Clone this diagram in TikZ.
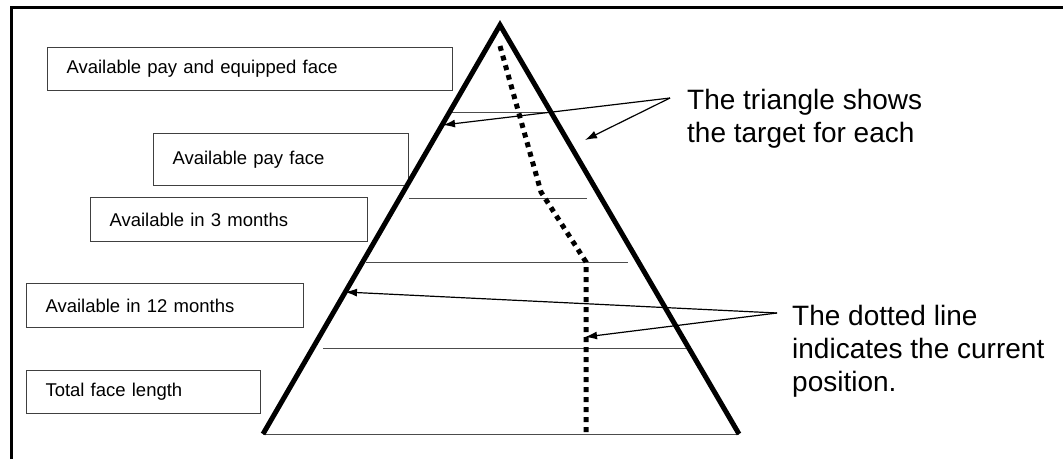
\documentclass[tikz,border=0pt]{standalone}
\usepackage{fontspec}
\setmainfont{Liberation Sans}
\usetikzlibrary{arrows.meta}
\begin{document}
\begin{tikzpicture}[x=1pt,y=-1pt,
  lbl/.style={draw=black!75, line width=1pt, font=\fontsize{18.5}{22}\selectfont,
    anchor=north west, inner xsep=19pt, inner ysep=0pt, align=left},
  note/.style={font=\fontsize{28}{33}\selectfont, anchor=north west, inner sep=0pt, align=left},
  tri/.style={line width=5pt, line join=miter},
  level/.style={draw=black!70, line width=1pt},
  dotline/.style={line width=5pt, dash pattern=on 5pt off 5pt},
  ptr/.style={line width=1.2pt, -{Latex[length=12pt,width=8pt]}}]
\useasboundingbox (0,0) rectangle (1063,459);
% frame
\draw[line width=3pt] (11.7,459) -- (11.7,7) -- (1063,7);
% boxes
\node[lbl, text width=367pt, minimum height=43pt] (b1) at (47,47) {Available pay and equipped face};
\node[lbl, text width=217pt, minimum height=52pt] (b2) at (153,133) {Available pay face};
\node[lbl, text width=239pt, minimum height=44pt] (b3) at (90,197) {Available in 3 months};
\node[lbl, text width=239pt, minimum height=44pt] (b4) at (26,283) {Available in 12 months};
\node[lbl, text width=196pt, minimum height=43pt] (b5) at (26,370) {Total face length};
% triangle
\coordinate (apex) at (500,25);
\coordinate (bl) at (263,434);
\coordinate (br) at (739,434);
\draw[level] (bl) -- (br);
\draw[level] (452,112) -- (545,112);
\draw[level] (409,198) -- (587,198);
\draw[level] (366,262) -- (628,262);
\draw[level] (323,348) -- (692,348);
\draw[tri] (bl) -- (apex) -- (br);
% dotted current position
\coordinate (d0) at (500,46);
\coordinate (d1) at (541,192);
\coordinate (d2) at (586,262);
\coordinate (d3) at (586,432);
\draw[dotline] (d0) -- (d1) -- (d2) -- (d3);
% notes
\node[note] (n1) at (687,89) {The triangle shows\\the target for each};
\node[note] (n2) at (792,305) {The dotted line\\indicates the current\\position.};
\coordinate (s1) at (670,98);
\coordinate (s2) at (777,313);
\coordinate (t1) at (443,125);
\coordinate (t2) at (585,140);
\coordinate (t3) at (345,292);
\coordinate (t4) at (585,337);
\draw[ptr] (s1) -- (t1);
\draw[ptr] (s1) -- (t2);
\draw[ptr] (s2) -- (t3);
\draw[ptr] (s2) -- (t4);
\end{tikzpicture}
\end{document}
